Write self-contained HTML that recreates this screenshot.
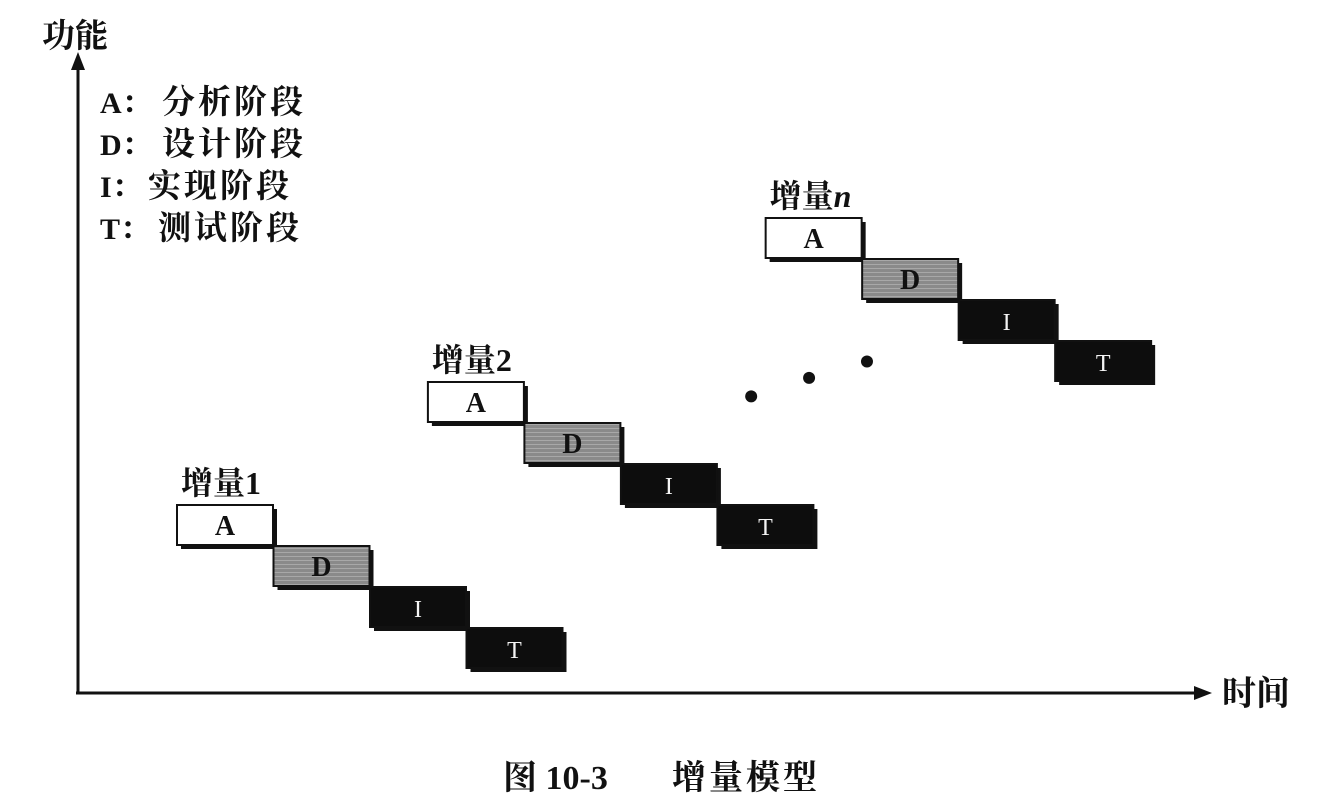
<!DOCTYPE html>
<html><head><meta charset="utf-8">
<style>
html,body{margin:0;padding:0;background:#fff;}
svg{display:block;}
text{font-family:"Liberation Serif","Noto Serif CJK SC","Noto Sans CJK SC",serif;font-weight:bold;fill:#111;}
</style></head>
<body>
<svg id="chart" width="1318" height="802" viewBox="0 0 1318 802">
  <defs>
    <pattern id="hatch" width="4" height="4" patternUnits="userSpaceOnUse">
      <rect width="4" height="4" fill="#8a8a8a"/>
      <rect width="4" height="1" fill="#a8a8a8"/>
    </pattern>
  </defs>
  <line x1="78" y1="694" x2="78" y2="66" stroke="#111" stroke-width="3"/>
  <polygon points="78,52 71,70 85,70" fill="#111"/>
  <line x1="76" y1="693" x2="1198" y2="693" stroke="#111" stroke-width="3"/>
  <polygon points="1212,693 1194,686 1194,700" fill="#111"/>
  <text x="42" y="47" font-size="33">功能</text>
  <text x="1222" y="705" font-size="34">时间</text>
  <g font-size="30">
    <text x="100" y="113">A<tspan>：</tspan><tspan x="162" font-size="33" letter-spacing="3">分析阶段</tspan></text>
    <text x="100" y="155">D<tspan>：</tspan><tspan x="162" font-size="33" letter-spacing="3">设计阶段</tspan></text>
    <text x="100" y="197">I<tspan>：</tspan><tspan x="148" font-size="33" letter-spacing="3">实现阶段</tspan></text>
    <text x="100" y="239">T<tspan>：</tspan><tspan x="158" font-size="33" letter-spacing="3">测试阶段</tspan></text>
  </g>
  <text x="503" y="789" font-size="34" font-weight="normal">图 10-3<tspan x="672" letter-spacing="3">增量模型</tspan></text>
  <g id="marks"></g>
</svg>
<script>
// data
const incLabels = ["增量1", "增量2", "增量n"];
const incTime = [0, 2.6, 6.1];      // start time of each increment (phase units)
const incFunc = [0, 3.0, 7.0];      // functionality level of each increment
const phases = ["A", "D", "I", "T"];
const dotsTime = [5.95, 6.55, 7.15];
const dotsFunc = [2.65, 3.1, 3.5];

// axis functions
const xS = t => 177 + t * 96.5;
const yS = f => 505 - f * 41;
const BW = 96, BH = 40;
const NS = "http://www.w3.org/2000/svg";
const g = document.getElementById("marks");
function mk(tag, attrs, parent) {
  const e = document.createElementNS(NS, tag);
  for (const k in attrs) e.setAttribute(k, attrs[k]);
  (parent || g).appendChild(e);
  return e;
}
incLabels.forEach((lab, i) => {
  const grp = mk("g", {});
  
  
  const t = mk("text", {x: xS(incTime[i]) + 4, y: yS(incFunc[i]) - 11, "font-size": 32}, grp);
  
  
  if (lab.endsWith("n")) {
    t.textContent = "增量";
    const s = mk("tspan", {"font-style": "italic"}, t);
    s.textContent = "n";
  } else t.textContent = lab;
  phases.forEach((p, j) => {
    const x = xS(incTime[i] + j), y = yS(incFunc[i] - j);
    const sh = mk("rect", {x: x + 4, y: y + 4, width: BW, height: BH, fill: "#111"}, grp);
    
    
    const fill = p === "A" ? "#fff" : p === "D" ? "url(#hatch)" : "#0d0d0d";
    const r = mk("rect", {x: x, y: y, width: BW, height: BH, fill: fill, stroke: "#111", "stroke-width": 2}, grp);
    
    
    const light = (p === "I" || p === "T");
    const tx = mk("text", {x: x + BW / 2, y: y + 30, "font-size": light ? 24 : 28, "text-anchor": "middle",
      style: "fill:" + (light ? "#f4f4f4" : "#111") + ";font-weight:" + (light ? "normal" : "bold")}, grp);
    
    
    tx.textContent = p;
  });
});
dotsTime.forEach((d, k) => {
  const c = mk("circle", {cx: xS(d), cy: yS(dotsFunc[k]), r: 6, fill: "#111"});
  
  
});
</script>
</body></html>
